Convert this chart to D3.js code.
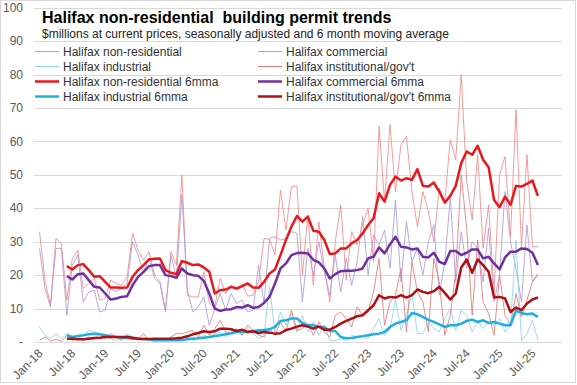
<!DOCTYPE html>
<html>
<head>
<meta charset="utf-8">
<script src="https://cdn.jsdelivr.net/npm/d3@7"></script>
<style>
  body { margin: 0; background: #fff; }
  svg { display: block; }
  text { font-family: "Liberation Sans Narrow", "Arial Narrow", "Liberation Sans", Arial, sans-serif; }
</style>
</head>
<body>
<div id="chart"></div>
<script>
// month labels on the x axis (every 6 months)
const tickLabels = ["Jan-18","Jul-18","Jan-19","Jul-19","Jan-20","Jul-20","Jan-21","Jul-21",
  "Jan-22","Jul-22","Jan-23","Jul-23","Jan-24","Jul-24","Jan-25","Jul-25"];
const yTicks = [0, 10, 20, 30, 40, 50, 60, 70, 80, 90, 100];

// monthly values, Jan-18 .. Aug-25 ($ millions)
const nonResidential = [33,18.5,11,31,29.5,12.5,25,27.5,16,17.5,19,12.5,13,18.5,17.5,17,19.5,32.5,27.5,24.5,
  27,20,18,9.5,27,23,50,14,13.5,13.5,21,11.5,10.5,19,14.5,17,15.7,17.5,13.7,14,
  18,31,30.7,26,45.5,33.5,46.5,46.7,20,38,17,36,22,12,30,41,18.5,33,29,35,
  40,24,64.5,42,65,45,59,61.5,45,34.5,45,39,30,46,42,60.5,54.5,80,48,36.5,
  56,28,41,15,50,55.5,31.5,69.5,28.5,56,28.5,28.5];
const commercial = [28,16,10.5,28,28,8,23,26,12,15,15.5,9,9.5,16,15,16,17.5,30,26,21,
  25,19,17.5,9,26,19,44,15.5,9,10.5,13.5,5,10,14.5,9.5,14.5,11.5,12.5,9,9.5,
  23,11.5,31,31.5,30.5,31,33,32.5,12,28,20,30,21,14,26,15,25,17,24,37.5,
  20,32,29,33.5,22,42.5,18,36,24,28,20,30,35,14,24,43,18,33,22,30,
  28,18,34,12,20,45,30,22,12,35,18,20.5];
const industrial = [4.5,2,1,2.5,1,2.5,1.5,1,2,3.5,3,2.5,1.5,1,0.5,1,2.5,1.5,0.5,1,
  0.5,0.2,0.5,0.3,0.5,0.8,1,1.5,0.5,1,2,1.5,2.5,3,1.5,3,3.5,2,4,2.5,
  1,2,16.5,3,9,5,8.5,3,8,3,6,2,5,0.5,0.5,1,0.5,2,1.5,2,
  1,4,7,2,4,12.5,3.5,8,14.5,2.5,2.5,6,4,3,7,10,3.5,9.5,8,3,
  6.5,4,6,5,7,3,5,30.5,0.5,2.5,6.5,0.5];
const institutional = [0.5,1.5,0.3,0.8,0.2,2,0.5,1,0.5,1.5,0.8,2.5,1,2.5,1.5,0.5,2,1,1,2.5,
  0.5,0.5,1,0.3,1.5,2.5,2.5,3,3.5,1.5,5,2,4,6.5,3,2.5,4,2,5,3.5,
  2,1.5,4,2,6,3,9.5,3.5,4,5.5,2,6,3,1.5,8,9,7,4.5,10.5,8,
  9,15,25,5,12,14,22,3,24,15,12,3,25,18,2,8,21,50,34,8,
  30.5,12,8.5,2,20,8,5,14.5,7.5,12.5,18,20];

// 6 month moving averages, starting Jun-18 (index 5)
const nonResidential6 = [22.7,21.7,23,23.3,21.5,19.5,19.7,18,16.3,16.3,16.2,16.3,19.5,21.5,23,24.7,24.9,
  25,21.5,20.7,20.3,24.2,23.7,23,23.2,22.3,21,14.5,15.5,15.7,16.5,16,16.7,17.5,16.3,16.2,
  18,20.5,21.7,26,30.5,34.5,37.7,36,37.5,33.3,33,30.5,26.3,26.5,28,28,29.5,30.5,32.5,
  35,37,44.5,42,47,49.5,48.3,49,48.5,51.7,46.7,46.5,47.7,45,41.7,43.7,46.7,53.5,57,56,
  58.7,54.5,52.3,42.5,40.3,43.5,41,46.7,46.5,47.3,48.3,43.7];
const commercial6 = [19.7,18.7,20.3,20.5,18.5,16.5,16.3,14.5,12.7,13,13.5,13.7,17,19.5,21,22.7,23,
  23,20,19.7,19.2,22,20.5,20,19.8,18.3,14.5,10,9.3,9.7,9.8,10.5,10.3,11,10.2,10.5,
  11.7,13.5,17.5,22,23.5,26,26.6,26.7,26.5,24.6,23.8,22,19,20.3,21.2,21.3,21.3,21.5,22,
  25,25.5,28.3,26.5,29.2,31.5,28.5,28.3,27.7,28,25.5,25.3,26.7,24,23.3,27.2,27.2,26,26.7,27.7,
  27.7,25,25.5,23.5,21.7,25.3,27,27,28,27.8,26.7,23];
const industrial6 = [2,1.5,1.8,2,2.3,2.5,2.3,2,1.7,1.5,1.3,1.2,1,1,0.9,0.8,0.5,
  0.5,0.5,0.5,0.5,0.6,0.8,1,1.1,1.3,1.5,1.8,2,2.3,2.6,3,3,3,3.2,3.5,
  3.6,3.8,4.5,6.3,6.5,7,7,5.7,5,5,4.5,4.5,3.3,3.3,1.5,1.1,1.2,1.5,1.7,
  2,2.3,2.5,3,4.5,5.5,6,6.5,8.7,8.3,7.5,6.6,6,5.3,4.5,5,5,5.5,6.3,6.7,
  6,6.5,5.7,6,5.5,5,5,9.3,8.7,8.3,8.5,7.5];
const institutional6 = [1,1,0.8,0.8,1,1.2,1.3,1.5,1.5,1.5,1.5,1.5,1.3,1,0.9,0.9,1,
  1,1,1,1.1,1.3,1.7,2.3,2.7,3.2,3,3.2,4,4,3.8,3.3,3.7,3,3.2,2.7,
  3,2.8,2.5,2.6,3.6,4,4.6,5,4.6,4,4.6,3.7,3.7,4.5,5.5,6.3,7,7.7,8,
  9.5,11,14,13,13.5,13.3,14,13.3,14,15.7,15,14.6,15.2,16.5,14.7,12.7,14.5,22.3,24.7,20.7,
  24.7,23,21,13.3,13.5,13,9,10.3,9.5,11.5,12.7,13.3];

const legendItems = [
  { name: "Halifax non-residential", color: "#f28b8b", w: 1 },
  { name: "Halifax commercial", color: "#ad9bd6", w: 1 },
  { name: "Halifax industrial", color: "#8ed3ee", w: 1 },
  { name: "Halifax institutional/gov't", color: "#e27a7a", w: 1 },
  { name: "Halifax non-residential 6mma", color: "#e8191c", w: 2.5 },
  { name: "Halifax commercial 6mma", color: "#7030a0", w: 2.5 },
  { name: "Halifax industrial 6mma", color: "#1fb0e2", w: 2.5 },
  { name: "Halifax institutional/gov't 6mma", color: "#b00f14", w: 2.5 }
];

const W = 577, H = 385;
const svg = d3.select("#chart").append("svg")
  .attr("width", W).attr("height", H);

svg.append("rect")
  .attr("x", 0.5).attr("y", 0.5)
  .attr("width", W - 2).attr("height", H - 3)
  .attr("fill", "#fff").attr("stroke", "#d9d9d9");

const x = d3.scaleLinear().domain([-1, 95.4]).range([34, 562]);
const y = d3.scaleLinear().domain([0, 100]).range([342, 7.7]);

// gridlines
svg.append("g")
  .selectAll("line")
  .data(yTicks)
  .join("line")
  .attr("x1", 34).attr("x2", 562)
  .attr("y1", d => Math.round(y(d)) + 0.5)
  .attr("y2", d => Math.round(y(d)) + 0.5)
  .attr("stroke", "#d9d9d9").attr("stroke-width", 1);

// y labels
svg.append("g")
  .selectAll("text")
  .data(yTicks)
  .join("text")
  .attr("x", 23)
  .attr("y", d => y(d))
  .attr("dy", "0.35em")
  .attr("text-anchor", "end")
  .style("font-size", "12px")
  .style("fill", "#595959")
  .text(d => d === 0 ? "-" : d);

// x labels
svg.append("g")
  .selectAll("text")
  .data(tickLabels)
  .join("text")
  .attr("transform", (d, i) => `translate(${x(i * 6) + 4}, 354) rotate(-45)`)
  .attr("text-anchor", "end")
  .style("font-size", "12px")
  .style("fill", "#595959")
  .text(d => d);

const line = d3.line()
  .x(d => x(d.i))
  .y(d => y(d.v));

const toPts = (arr, start) => arr.map((v, k) => ({ i: k + start, v }));

const series = [
  { data: toPts(nonResidential, 0), item: legendItems[0] },
  { data: toPts(commercial, 0), item: legendItems[1] },
  { data: toPts(industrial, 0), item: legendItems[2] },
  { data: toPts(institutional, 0), item: legendItems[3] },
  { data: toPts(industrial6, 5), item: legendItems[6] },
  { data: toPts(institutional6, 5), item: legendItems[7] },
  { data: toPts(commercial6, 5), item: legendItems[5] },
  { data: toPts(nonResidential6, 5), item: legendItems[4] }
];

svg.append("g")
  .selectAll("path")
  .data(series)
  .join("path")
  .attr("d", d => line(d.data))
  .attr("fill", "none")
  .attr("stroke", d => d.item.color)
  .attr("stroke-width", d => d.item.w)
  .attr("stroke-opacity", d => d.item.w < 2 ? 0.85 : 1)
  .attr("stroke-linejoin", "round");

// title
svg.append("text")
  .attr("x", 42).attr("y", 23)
  .style("font-size", "16px")
  .style("font-weight", "bold")
  .style("white-space", "pre")
  .style("fill", "#000")
  .text("Halifax non-residential  building permit trends");

svg.append("text")
  .attr("x", 42).attr("y", 38)
  .style("font-size", "12px")
  .style("fill", "#222")
  .text("$millions at current prices, seasonally adjusted and 6 month moving average");

// legend, two columns
const legend = svg.append("g")
  .selectAll("g")
  .data(legendItems)
  .join("g")
  .attr("transform", (d, i) => `translate(${i % 2 === 0 ? 35 : 258}, ${51.5 + Math.floor(i / 2) * 15})`);

legend.append("line")
  .attr("x1", 0).attr("x2", 24)
  .attr("stroke", d => d.color)
  .attr("stroke-width", d => d.w);

legend.append("text")
  .attr("x", 28)
  .attr("dy", "0.35em")
  .style("font-size", "12px")
  .style("fill", "#333")
  .text(d => d.name);
</script>
</body>
</html>
